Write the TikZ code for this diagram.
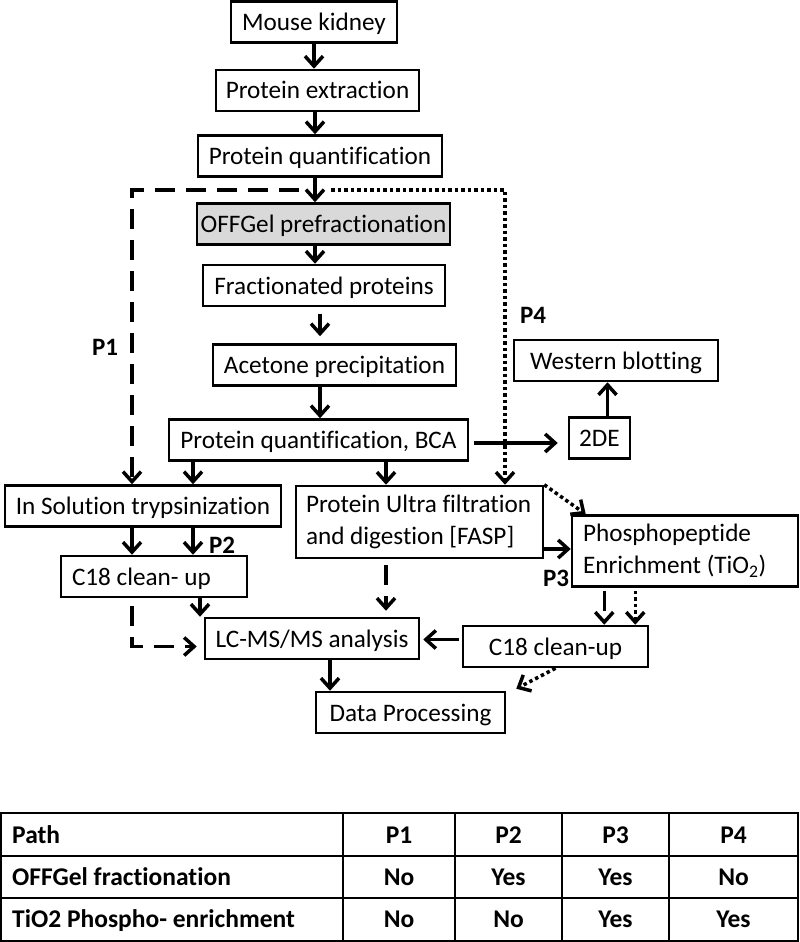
\documentclass[tikz,border=0pt]{standalone}
\usepackage{fontspec}
\setmainfont{Carlito}[Ligatures={NoCommon}]
\usetikzlibrary{arrows.meta}

\tikzset{
  box/.style={draw, line width=2.5pt, inner sep=0pt, minimum height=41pt, text height=18pt, text depth=1pt, font=\fontsize{25.2}{32}\selectfont},
  flow/.style={line width=3.5pt, -{Straight Barb[length=10pt,width=18pt]}},
  pdash/.style={flow, dash pattern=on 20pt off 11pt},
  pdot/.style={flow, dash pattern=on 3.5pt off 3pt},
  plabel/.style={font=\fontsize{25}{28}\selectfont\bfseries},
  cell/.style={font=\fontsize{25.5}{30}\selectfont\bfseries, inner sep=0pt}
}

\begin{document}
\begin{tikzpicture}[x=1pt, y=-1pt]
    \useasboundingbox (0,0) rectangle (800,942);

    % Workflow steps
    \node[box, minimum width=166] (kidney) at (314,22) {Mouse kidney};
    \node[box, minimum width=203] (extract) at (317.5,90.5) {Protein extraction};
    \node[box, minimum width=244] (quant) at (320,156) {Protein quantification};
    \node[box, minimum width=253, fill=gray!30] (offgel) at (323.5,224) {OFFGel prefractionation};
    \node[box, minimum width=242] (fract) at (324,285.5) {Fractionated proteins};
    \node[box, minimum width=243] (acetone) at (334.5,365) {Acetone precipitation};
    \node[box, minimum width=299] (bca) at (318.5,440) {Protein quantification, BCA};
    \node[box, minimum width=61] (twode) at (599.5,438) {2DE};
    \node[box, minimum width=204] (western) at (616,360.5) {Western blotting};
    \node[box, minimum width=276] (insol) at (143,506) {In Solution trypsinization};
    \node[box, text height=, text depth=, minimum height=72, inner xsep=10pt, text width=227pt, align=flush left] (fasp) at (419.5,522) {Protein Ultra filtration\\and digestion [FASP]};
    \node[box, inner xsep=11pt, text width=164pt, align=flush left] (cleanL) at (154,576.5) {C18 clean- up};
    \node[box, minimum width=214] (lcms) at (312,638.5) {LC-MS/MS analysis};
    \node[box, text height=, text depth=, minimum height=71, inner xsep=11pt, text width=204pt, align=flush left] (phos) at (685,551) {Phosphopeptide\\Enrichment (TiO\textsubscript{2})};
    \node[box, minimum width=185] (cleanR) at (555.5,646.5) {C18 clean-up};
    \node[box, minimum width=189] (data) at (410.5,712.5) {Data Processing};

    % Path labels
    \node[plabel] (lp1) at (105,347) {P1};
    \node[plabel] (lp2) at (222,545) {P2};
    \node[plabel] (lp3) at (556,578) {P3};
    \node[plabel] (lp4) at (533,315) {P4};

    % Columns of the branches
    \coordinate (split) at (315,190);
    \coordinate (p1col) at (132,0);
    \coordinate (p2col) at (193,0);
    \coordinate (p4col) at (505,0);
    \coordinate (faspcol) at (386,0);

    % Main line
    \draw[flow] (kidney) -- (kidney |- extract.north);
    \draw[flow] (extract.south -| split) -- (quant.north -| split);
    \draw[flow] (quant.south -| split) -- (offgel.north -| split);
    \draw[flow] (offgel.south -| split) -- (fract.north -| split);
    \draw[flow, shorten <=7pt, shorten >=7pt] ([xshift=-4pt]fract.south) -- ([xshift=-4pt]fract.south |- acetone.north);
    \draw[flow] ([xshift=-4pt]fract.south |- acetone.south) -- ([xshift=-4pt]fract.south |- bca.north);
    \draw[flow, shorten <=5pt, shorten >=10pt] ([yshift=-3pt]bca.east) -- ([yshift=-3pt]bca.east -| twode.west);
    \draw[flow] ([xshift=8pt]twode.north) -- ([xshift=8pt]twode.north |- western.south);
    \draw[flow] (bca.south -| p2col) -- (insol.north -| p2col);
    \draw[flow] (bca.south -| faspcol) -- (fasp.north -| faspcol);

    % P1 and P4 branches
    \draw[pdash] ([xshift=-16pt]split) -| (insol.north -| p1col);
    \draw[pdot] ([xshift=16pt]split) -| (fasp.north -| p4col);

    % Digestion and clean-up
    \draw[flow] (insol.south -| p1col) -- (cleanL.north -| p1col);
    \draw[flow] (insol.south -| p2col) -- (cleanL.north -| p2col);
    \draw[flow] ([xshift=7pt]cleanL.south -| p2col) -- ([xshift=7pt]lcms.north -| p2col);
    \draw[pdash, shorten <=8pt, shorten >=7pt] (cleanL.south -| p1col) |- ([yshift=-8pt]lcms.west);
    \draw[pdash, shorten <=6pt, shorten >=6pt] (fasp.south -| faspcol) -- (lcms.north -| faspcol);
    \draw[flow] ([xshift=18pt]lcms.south) -- ([xshift=18pt]lcms.south |- data.north);

    % Phosphopeptide enrichment
    \draw[flow] ([yshift=-27pt]fasp.east) -- ([yshift=-27pt]fasp.east -| phos.west);
    \draw[pdot] (fasp.north east) -- ([xshift=15pt]phos.north west);
    \draw[pdash, shorten <=3pt] ([xshift=-45pt]cleanR.north east |- phos.south) -- ([xshift=-45pt]cleanR.north east);
    \draw[pdot, shorten <=3pt] ([xshift=-14pt]cleanR.north east |- phos.south) -- ([xshift=-14pt]cleanR.north east);
    \draw[flow, shorten <=3pt, shorten >=3pt] ([yshift=7pt]cleanR.west) -- ([yshift=7pt]cleanR.west -| lcms.east);
    \draw[pdot] (cleanR.south) -- ([xshift=10pt,yshift=2pt]data.north east);

    % Table of paths
    \draw[line width=1.5pt] (1,813) rectangle (798,941);
    \foreach \y in {856,898} \draw[line width=1.5pt] (1,\y) -- (798,\y);
    \foreach \x in {343,455,562,669} \draw[line width=1.5pt] (\x,813) -- (\x,941);
    \foreach \y/\lab/\a/\b/\c/\d [count=\i] in {843/Path/P1/P2/P3/P4, 885/OFFGel fractionation/No/Yes/Yes/No, 927/TiO2 Phospho- enrichment/No/No/Yes/Yes} {
        \node[cell, anchor=base west] (r\i c0) at (12,\y) {\lab};
        \node[cell, anchor=base] (r\i c1) at (399,\y) {\a};
        \node[cell, anchor=base] (r\i c2) at (508.5,\y) {\b};
        \node[cell, anchor=base] (r\i c3) at (615.5,\y) {\c};
        \node[cell, anchor=base] (r\i c4) at (733.5,\y) {\d};
    }
\end{tikzpicture}
\end{document}
